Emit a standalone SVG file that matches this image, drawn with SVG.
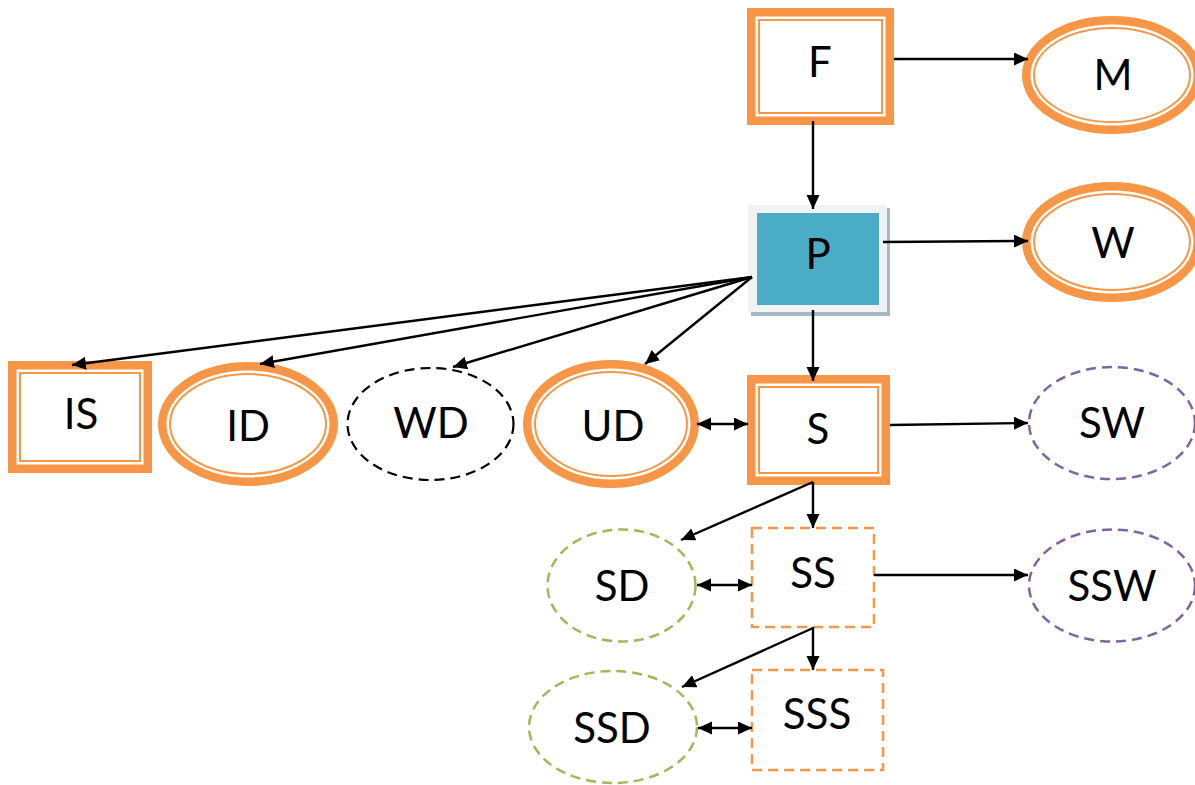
<svg xmlns="http://www.w3.org/2000/svg" width="1195" height="785" viewBox="0 0 1195 785">
<style>
.lbl{font-family:Lato,"Liberation Sans",sans-serif;font-size:42px;fill:#000;text-anchor:middle}
.thick{fill:#fff;stroke:#f79646;stroke-width:8.5}
.thin{fill:none;stroke:#f79646;stroke-width:2}
.dblk{fill:#fff;stroke:#000;stroke-width:2.2;stroke-dasharray:10 6}
.dpur{fill:#fff;stroke:#8064a2;stroke-width:2.5;stroke-dasharray:10 6}
.dgrn{fill:#fff;stroke:#9bbb59;stroke-width:2.5;stroke-dasharray:10 6}
.dorg{fill:#fff;stroke:#f79646;stroke-width:2.5;stroke-dasharray:10 6}
.edge{fill:none;stroke:#000;stroke-width:2.4;marker-end:url(#ah)}
.both{marker-start:url(#ah)}
</style>
<defs>
<marker id="ah" markerUnits="userSpaceOnUse" markerWidth="16" markerHeight="14" refX="14" refY="6.5" orient="auto-start-reverse">
<path d="M0,0 L14,6.5 L0,13 z" fill="#000"/>
</marker>
</defs>
<rect width="1195" height="785" fill="#fff"/>
<g id="F">
<rect class="thick" x="751.25" y="12.25" width="138.5" height="108.5"/>
<rect class="thin" x="759" y="20" width="123" height="93"/>
<text class="lbl" x="820" y="77">F</text>
</g>
<g id="M">
<ellipse class="thick" cx="1112" cy="75" rx="85.75" ry="54.75"/>
<ellipse class="thin" cx="1112" cy="75" rx="78" ry="47"/>
<text class="lbl" x="1113" y="90">M</text>
</g>
<g id="P">
<rect x="751" y="208" width="139" height="108" fill="#a3bac5"/>
<rect x="748" y="205" width="139" height="107" fill="#f2f2f2"/>
<rect x="757" y="213" width="122" height="92" fill="#4bacc6"/>
<text class="lbl" x="818" y="269">P</text>
</g>
<g id="W">
<ellipse class="thick" cx="1112" cy="242" rx="85.75" ry="55.75"/>
<ellipse class="thin" cx="1112" cy="242" rx="78" ry="48"/>
<text class="lbl" x="1113" y="258">W</text>
</g>
<g id="IS">
<rect class="thick" x="12.25" y="365.25" width="135.5" height="103.5"/>
<rect class="thin" x="20" y="373" width="120" height="88"/>
<text class="lbl" x="81" y="429">IS</text>
</g>
<g id="ID">
<ellipse class="thick" cx="248" cy="424" rx="85.75" ry="57.75"/>
<ellipse class="thin" cx="248" cy="424" rx="78" ry="50"/>
<text class="lbl" x="248" y="441">ID</text>
</g>
<g id="WD">
<ellipse class="dblk" cx="430.5" cy="424" rx="83" ry="56"/>
<text class="lbl" x="431" y="438">WD</text>
</g>
<g id="UD">
<ellipse class="thick" cx="611" cy="424" rx="83.75" ry="59.75"/>
<ellipse class="thin" cx="611" cy="424" rx="76" ry="52"/>
<text class="lbl" x="613" y="441">UD</text>
</g>
<g id="S">
<rect class="thick" x="751.25" y="379.25" width="134.5" height="101.5"/>
<rect class="thin" x="759" y="387" width="119" height="86"/>
<text class="lbl" x="818" y="444">S</text>
</g>
<g id="SW">
<ellipse class="dpur" cx="1112" cy="423" rx="83" ry="56"/>
<text class="lbl" x="1112" y="438">SW</text>
</g>
<g id="SD">
<ellipse class="dgrn" cx="621.5" cy="585.5" rx="74" ry="56"/>
<text class="lbl" x="622" y="601">SD</text>
</g>
<g id="SS">
<rect class="dorg" x="752" y="528" width="122" height="99"/>
<text class="lbl" x="813" y="588">SS</text>
</g>
<g id="SSW">
<ellipse class="dpur" cx="1112" cy="585.5" rx="83" ry="56"/>
<text class="lbl" x="1112" y="601">SSW</text>
</g>
<g id="SSD">
<ellipse class="dgrn" cx="613" cy="727" rx="84" ry="56"/>
<text class="lbl" x="612" y="743">SSD</text>
</g>
<g id="SSS">
<rect class="dorg" x="752" y="670" width="131" height="100"/>
<text class="lbl" x="817" y="729">SSS</text>
</g>
<g id="connectors">
<line class="edge" x1="813" y1="121" x2="813" y2="209"/>
<line class="edge" x1="894" y1="59" x2="1028" y2="59"/>
<line class="edge" x1="883" y1="242" x2="1028" y2="241"/>
<line class="edge" x1="813" y1="310" x2="813" y2="381"/>
<line class="edge" x1="752" y1="277" x2="72" y2="365"/>
<line class="edge" x1="752" y1="277" x2="260" y2="364"/>
<line class="edge" x1="752" y1="277" x2="453" y2="367"/>
<line class="edge" x1="752" y1="277" x2="645" y2="364"/>
<line class="edge both" x1="697" y1="424" x2="748" y2="424"/>
<line class="edge" x1="890" y1="425" x2="1028" y2="423"/>
<line class="edge" x1="813" y1="482" x2="813" y2="528"/>
<line class="edge" x1="813" y1="482" x2="681" y2="540"/>
<line class="edge both" x1="697" y1="585" x2="752" y2="585"/>
<line class="edge" x1="874" y1="575" x2="1028" y2="575"/>
<line class="edge" x1="813" y1="627" x2="813" y2="670"/>
<line class="edge" x1="813" y1="628" x2="682" y2="687"/>
<line class="edge both" x1="698" y1="728" x2="752" y2="728"/>
</g>
</svg>
